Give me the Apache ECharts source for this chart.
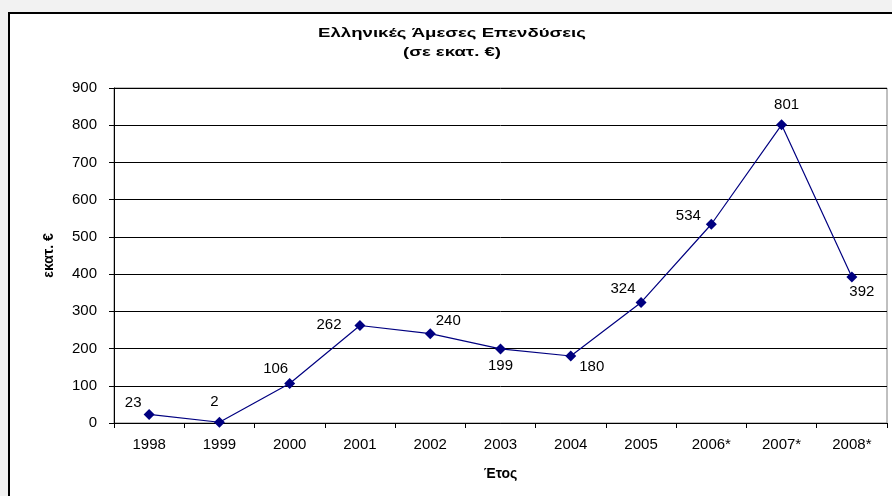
<!DOCTYPE html>
<html>
<head>
<meta charset="utf-8">
<script src="https://cdn.jsdelivr.net/npm/echarts@6/dist/echarts.min.js"></script>
<style>
  html, body { margin: 0; padding: 0; background: #f2f2f2; }
  #chart { width: 892px; height: 496px; }
</style>
</head>
<body>
<div id="chart"></div>
<script>
// data
const years = ['1998', '1999', '2000', '2001', '2002', '2003', '2004', '2005', '2006*', '2007*', '2008*']
const investments = [23, 2, 106, 262, 240, 199, 180, 324, 534, 801, 392]
const yTicks = { min: 0, max: 900, interval: 100 }
const titleLines = ['Ελληνικές Άμεσες Επενδύσεις', '(σε εκατ. €)']

// where each value label sits around its point (px)
const labelOffsets = [
  [-16, -12], [-5, -20], [-14, -15], [-31, -1], [18, -13], [0, 17],
  [21, 11], [-18, -14], [-23, -8], [5, -20], [10, 15]
]

const font = 'Arial, "Liberation Sans", sans-serif'

const chart = echarts.init(document.getElementById('chart'))

// the original title is drawn wide, so stretch it a bit
const titleText = (txt, y) => ({
  type: 'text',
  x: 452,
  y: y,
  scaleX: 1.43,
  z: 10,
  style: {
    text: txt,
    fontFamily: font,
    fontSize: 13,
    fontWeight: 'bold',
    fill: '#000',
    textAlign: 'center',
    textVerticalAlign: 'middle'
  }
})

const option = {
  backgroundColor: '#f2f2f2',
  animation: false,
  graphic: [
    {
      type: 'rect',
      z: -10,
      shape: { x: 9, y: 13, width: 900, height: 500 },
      style: { fill: '#fff', stroke: '#000', lineWidth: 2 }
    },
    titleText(titleLines[0], 33),
    titleText(titleLines[1], 52)
  ],
  grid: {
    left: 114,
    top: 88,
    right: 5,
    bottom: 73,
    show: true,
    borderColor: '#808080',
    borderWidth: 1,
    backgroundColor: 'transparent'
  },
  xAxis: {
    type: 'category',
    data: years,
    name: 'Έτος',
    nameLocation: 'middle',
    nameGap: 44,
    nameTextStyle: { fontFamily: font, fontSize: 14, fontWeight: 'bold', color: '#000' },
    axisLine: { lineStyle: { color: '#000', width: 1 } },
    axisTick: { show: true, interval: 0, length: 5, lineStyle: { color: '#000' } },
    axisLabel: { interval: 0, margin: 14, fontFamily: font, fontSize: 15, color: '#000' }
  },
  yAxis: {
    type: 'value',
    min: yTicks.min,
    max: yTicks.max,
    interval: yTicks.interval,
    name: 'εκατ. €',
    nameLocation: 'middle',
    nameRotate: 90,
    nameGap: 58,
    nameTextStyle: { fontFamily: font, fontSize: 14, fontWeight: 'bold', color: '#000' },
    axisLine: { show: true, lineStyle: { color: '#000', width: 1 } },
    axisTick: { show: true, length: 5, lineStyle: { color: '#000' } },
    axisLabel: { margin: 17, fontFamily: font, fontSize: 15, color: '#000' },
    splitLine: { show: true, lineStyle: { color: '#000', width: 1 } }
  },
  series: [
    {
      type: 'line',
      data: investments.map((v, i) => ({
        value: v,
        label: { offset: labelOffsets[i] }
      })),
      symbol: 'diamond',
      symbolSize: 11,
      lineStyle: { color: '#000080', width: 1.2 },
      itemStyle: { color: '#000080' },
      label: {
        show: true,
        position: 'inside',
        fontFamily: font,
        fontSize: 15,
        color: '#000'
      }
    }
  ]
}

chart.setOption(option)
</script>
</body>
</html>
